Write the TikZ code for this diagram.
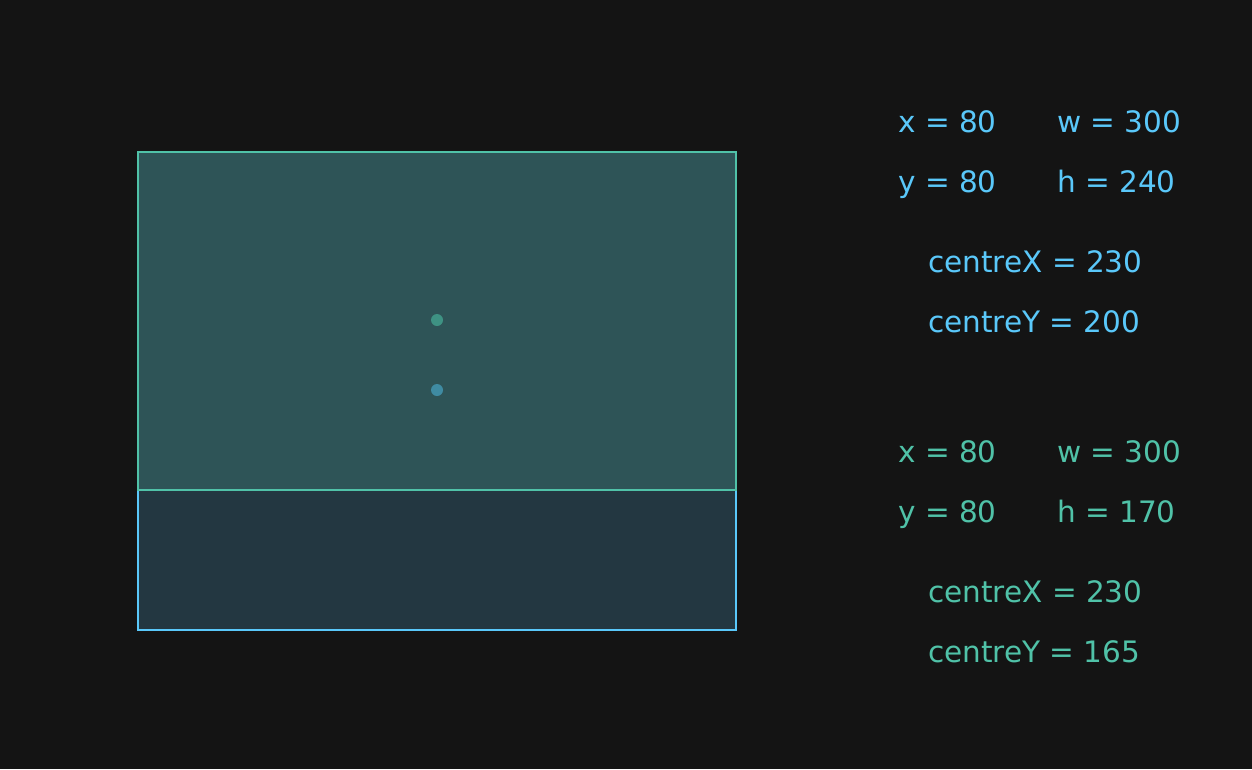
\documentclass[tikz,border=0pt]{standalone}
\usepackage{fontspec}
\setmainfont{DejaVu Sans}
\definecolor{bgc}{HTML}{141414}
\definecolor{bluec}{HTML}{5AC8FA}
\definecolor{greenc}{HTML}{50C2A8}
\definecolor{bluefill}{HTML}{233741}
\definecolor{greenfill}{HTML}{2E5457}
\definecolor{bluedot}{HTML}{3F8BA2}
\definecolor{greendot}{HTML}{3E9283}
\tikzset{
  lbl/.style={anchor=base west, inner sep=0pt, font=\fontsize{29.5}{34}\selectfont},
  bluelbl/.style={lbl, text=bluec},
  greenlbl/.style={lbl, text=greenc}
}
\begin{document}
\begin{tikzpicture}[x=1pt, y=-1pt, line join=miter]
  \fill[bgc] (0,0) rectangle (1252,769);
  \useasboundingbox (0,0) rectangle (1252,769);
  % the two boxes
  \filldraw[fill=bluefill, draw=bluec, line width=2pt] (138,152) rectangle (736,630);
  \filldraw[fill=greenfill, draw=greenc, line width=2pt] (138,152) rectangle (736,490);
  \fill[greendot] (437,320) circle (6);
  \fill[bluedot] (437,390) circle (6);
  % first box values
  \node[bluelbl] (bx) at (898,132) {x = 80};
  \node[bluelbl] (bw) at (1057,132) {w = 300};
  \node[bluelbl] (by) at (898,192) {y = 80};
  \node[bluelbl] (bh) at (1057,192) {h = 240};
  \node[bluelbl] (bcx) at (928,272) {centreX = 230};
  \node[bluelbl] (bcy) at (928,332) {centreY = 200};
  % second box values
  \node[greenlbl] (gx) at (898,462) {x = 80};
  \node[greenlbl] (gw) at (1057,462) {w = 300};
  \node[greenlbl] (gy) at (898,522) {y = 80};
  \node[greenlbl] (gh) at (1057,522) {h = 170};
  \node[greenlbl] (gcx) at (928,602) {centreX = 230};
  \node[greenlbl] (gcy) at (928,662) {centreY = 165};
\end{tikzpicture}
\end{document}
